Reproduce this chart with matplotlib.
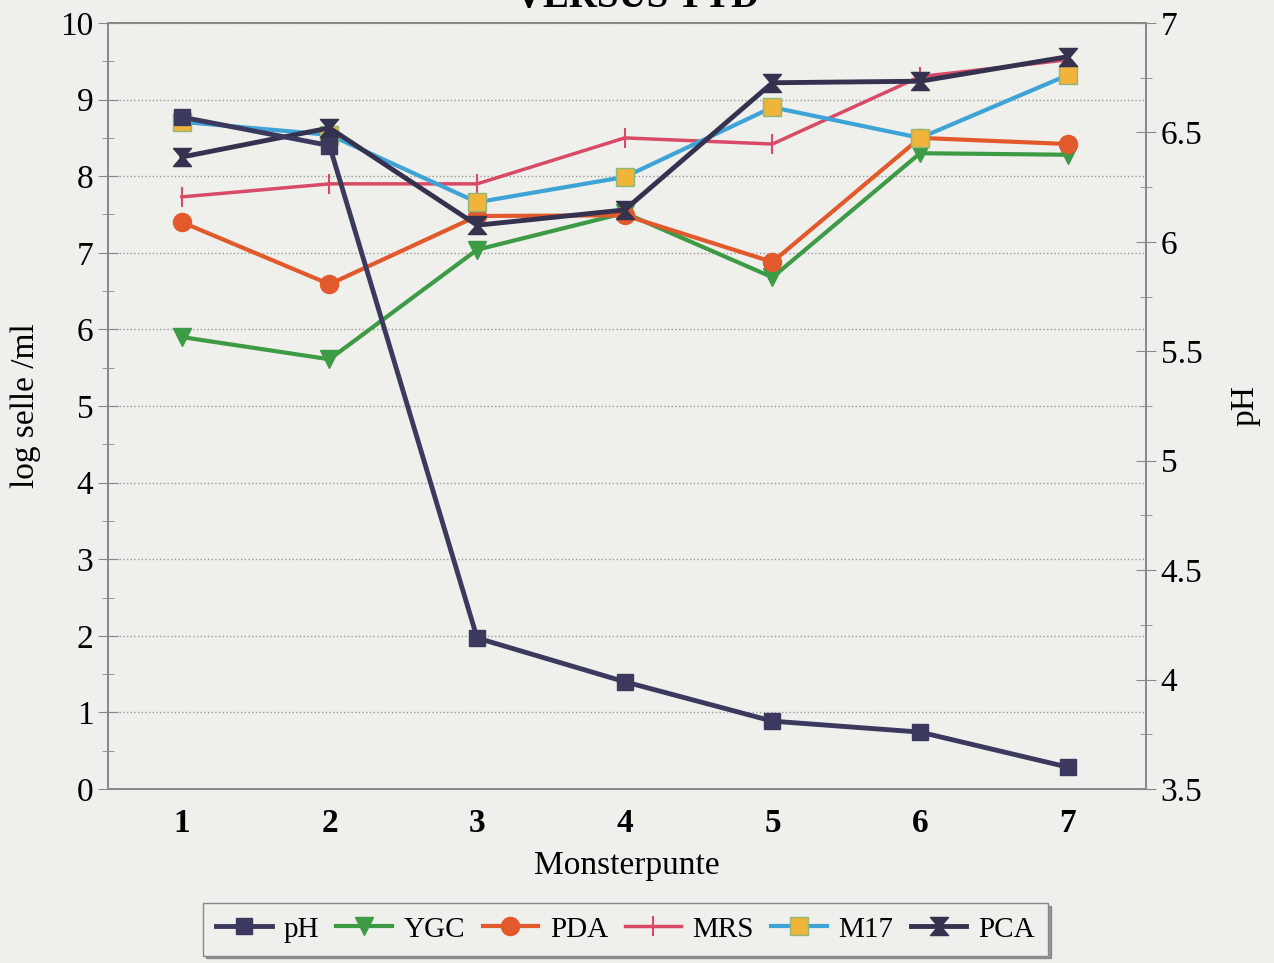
import matplotlib
matplotlib.use('Agg')
import matplotlib.pyplot as plt
from matplotlib.path import Path
from matplotlib.ticker import MultipleLocator

plt.rcParams['font.family'] = ['Liberation Serif', 'DejaVu Serif']

punte = [1, 2, 3, 4, 5, 6, 7]
ph = [6.57, 6.44, 4.19, 3.99, 3.81, 3.76, 3.60]
ygc = [5.90, 5.61, 7.04, 7.52, 6.68, 8.30, 8.28]
pda = [7.40, 6.59, 7.48, 7.49, 6.88, 8.50, 8.42]
mrs = [7.73, 7.90, 7.90, 8.50, 8.42, 9.30, 9.52]
m17 = [8.71, 8.54, 7.66, 7.99, 8.90, 8.50, 9.32]
pca = [8.25, 8.63, 7.36, 7.56, 9.22, 9.24, 9.56]

bg = '#efefeb'
hourglass = Path([(-1, 1), (1, 1), (0.15, 0), (1, -1), (-1, -1), (-0.15, 0), (-1, 1)],
                 [Path.MOVETO] + [Path.LINETO] * 5 + [Path.CLOSEPOLY])

fig = plt.figure(figsize=(12.74, 9.63), dpi=100, facecolor=bg)
ax = fig.add_axes([108 / 1274, 1 - 789 / 963, (1146 - 108) / 1274, (789 - 23) / 963])
ax.set_facecolor(bg)
ax2 = ax.twinx()

l_ph, = ax2.plot(punte, ph, color='#3b3a5e', lw=3.5, marker='s', ms=12, zorder=5, label='pH')
l_ygc, = ax.plot(punte, ygc, color='#3d9a45', lw=3, marker='v', ms=13, label='YGC')
l_pda, = ax.plot(punte, pda, color='#e2592b', lw=3, marker='o', ms=13, label='PDA')
l_mrs, = ax.plot(punte, mrs, color='#d84a66', lw=2.5, marker='|', ms=14, mew=1.5, label='MRS')
l_m17, = ax.plot(punte, m17, color='#3ea3d6', lw=3, marker='s', ms=13, mfc='#f0b43a',
                 mec='#8fb87a', mew=1, label='M17')
l_pca, = ax.plot(punte, pca, color='#34324f', lw=3.5, marker=hourglass, ms=13, label='PCA')

ax.set_xlim(0.5, 7.53)
ax.set_ylim(0, 10)
ax2.set_ylim(3.5, 7)
ax.set_xticks(punte)
ax.set_xticklabels([str(p) for p in punte], fontweight='bold', fontsize=24)
ax.yaxis.set_major_locator(MultipleLocator(1))
ax.yaxis.set_minor_locator(MultipleLocator(0.5))
ax2.yaxis.set_minor_locator(MultipleLocator(0.25))
ax2.set_yticks([3.5, 4, 4.5, 5, 5.5, 6, 6.5, 7])
ax2.set_yticklabels(['3.5', '4', '4.5', '5', '5.5', '6', '6.5', '7'])
ax.tick_params(axis='y', which='both', direction='inout', color='#888888', labelsize=24)
ax.tick_params(axis='y', which='major', length=14)
ax.tick_params(axis='y', which='minor', length=8)
ax.tick_params(axis='x', length=0, pad=14)
ax2.tick_params(axis='y', which='both', direction='inout', color='#888888', labelsize=24)
ax2.tick_params(axis='y', which='major', length=14)
ax2.tick_params(axis='y', which='minor', length=8)
ax.grid(axis='y', which='major', ls=':', color='#999999', lw=1)
for a in (ax, ax2):
    for s in a.spines.values():
        s.set_color('#8a8a8a')
        s.set_linewidth(1.3)

ax.set_ylabel('log selle /ml', fontsize=24, labelpad=14)
ax2.set_ylabel('pH', fontsize=24, labelpad=20)
ax.set_xlabel('Monsterpunte', fontsize=24, labelpad=8)

fig.text(0.5, 1.003, 'VERSUS TYD', ha='center', va='center', fontsize=28, fontweight='bold')

fig.legend(handles=[l_ph, l_ygc, l_pda, l_mrs, l_m17, l_pca], loc='center',
           bbox_to_anchor=(0.491, 0.035), ncol=6, fontsize=21, frameon=True, fancybox=False,
           shadow=True, edgecolor='#888888', handlelength=1.9, columnspacing=0.6,
           handletextpad=0.4, borderpad=0.45, facecolor=bg)

fig.savefig('out.png', dpi=100, facecolor=bg)
